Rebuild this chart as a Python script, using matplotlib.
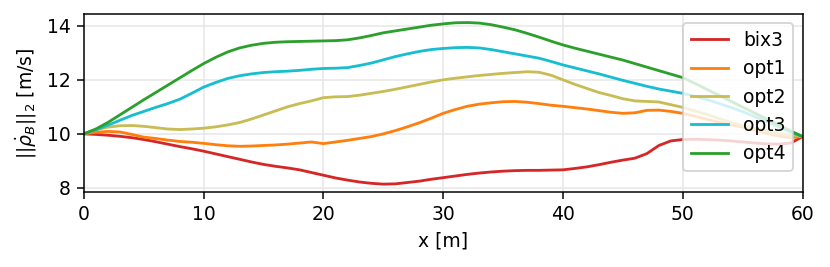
import matplotlib
matplotlib.use('Agg')
import matplotlib.pyplot as plt

# x position [m], 1 m steps
x = list(range(0, 61))

bix3 = [10.0, 9.98, 9.95, 9.91, 9.86, 9.79, 9.71, 9.62, 9.53, 9.45,
        9.36, 9.26, 9.16, 9.06, 8.96, 8.87, 8.8, 8.74, 8.67, 8.57,
        8.47, 8.37, 8.29, 8.22, 8.17, 8.14, 8.15, 8.2, 8.25, 8.32,
        8.38, 8.44, 8.5, 8.55, 8.59, 8.62, 8.64, 8.65, 8.65, 8.66,
        8.67, 8.72, 8.78, 8.86, 8.95, 9.03, 9.1, 9.27, 9.57, 9.74,
        9.79, 9.8, 9.79, 9.77, 9.74, 9.7, 9.66, 9.63, 9.62, 9.66, 9.9]
opt1 = [10.0, 10.06, 10.09, 10.07, 9.98, 9.88, 9.83, 9.77, 9.72, 9.69,
        9.65, 9.6, 9.56, 9.54, 9.55, 9.57, 9.59, 9.62, 9.66, 9.7,
        9.64, 9.7, 9.76, 9.83, 9.9, 10.0, 10.12, 10.26, 10.41, 10.58,
        10.76, 10.9, 11.02, 11.1, 11.15, 11.19, 11.2, 11.17, 11.12, 11.06,
        11.02, 10.97, 10.92, 10.86, 10.8, 10.76, 10.78, 10.87, 10.88, 10.83,
        10.76, 10.65, 10.54, 10.43, 10.34, 10.25, 10.14, 10.02, 9.92, 9.86, 9.9]
opt2 = [10.0, 10.15, 10.25, 10.3, 10.31, 10.28, 10.23, 10.18, 10.16, 10.18,
        10.21, 10.26, 10.33, 10.42, 10.55, 10.7, 10.85, 11.0, 11.12, 11.22,
        11.34, 11.37, 11.38, 11.43, 11.5, 11.57, 11.65, 11.74, 11.83, 11.92,
        12.0, 12.06, 12.11, 12.16, 12.2, 12.24, 12.27, 12.3, 12.28, 12.17,
        12.0, 11.83, 11.68, 11.53, 11.42, 11.3, 11.22, 11.2, 11.18, 11.08,
        10.98, 10.85, 10.72, 10.57, 10.43, 10.3, 10.2, 10.1, 10.02, 9.95, 9.9]
opt3 = [10.0, 10.15, 10.32, 10.5, 10.68, 10.83, 10.98, 11.12, 11.28, 11.5,
        11.73, 11.9, 12.05, 12.15, 12.22, 12.27, 12.3, 12.32, 12.35, 12.39,
        12.42, 12.43, 12.45, 12.53, 12.62, 12.74, 12.86, 12.96, 13.05, 13.12,
        13.16, 13.19, 13.2, 13.18, 13.12, 13.04, 12.96, 12.88, 12.8, 12.68,
        12.55, 12.44, 12.33, 12.22, 12.1, 11.98, 11.87, 11.76, 11.66, 11.58,
        11.5, 11.39, 11.27, 11.13, 10.98, 10.82, 10.64, 10.45, 10.26, 10.07, 9.9]
opt4 = [10.0, 10.18, 10.42, 10.7, 10.98, 11.26, 11.53, 11.8, 12.07, 12.34,
        12.6, 12.83, 13.03, 13.18, 13.28, 13.35, 13.39, 13.41, 13.42, 13.43,
        13.44, 13.45, 13.48, 13.55, 13.64, 13.74, 13.81, 13.88, 13.95, 14.02,
        14.07, 14.11, 14.12, 14.1, 14.04, 13.95, 13.85, 13.72, 13.58, 13.43,
        13.29, 13.17, 13.06, 12.95, 12.84, 12.73, 12.6, 12.47, 12.34, 12.21,
        12.08, 11.87, 11.65, 11.43, 11.21, 10.99, 10.77, 10.55, 10.33, 10.11, 9.9]

labels = ['bix3', 'opt1', 'opt2', 'opt3', 'opt4']
colors = ['tab:red', 'tab:orange', '#c8bc55', 'tab:cyan', 'tab:green']

fig, ax = plt.subplots(figsize=(830 / 135, 267 / 135), dpi=135)
for name, vals, col in zip(labels, [bix3, opt1, opt2, opt3, opt4], colors):
    ax.plot(x, vals, color=col, lw=1.5, label=name)
ax.set_xlim(0, 60)
ax.set_ylim(7.85, 14.44)
ax.set_yticks([8, 10, 12, 14])
ax.grid(True, color='#e6e6e6')
ax.set_xlabel('x [m]')
ax.set_ylabel(r'$||\dot{\rho}_B||_2$ [m/s]')
ax.legend(loc='upper right')
fig.subplots_adjust(left=0.101, right=0.967, top=0.948, bottom=0.281)
fig.savefig('out.png')
